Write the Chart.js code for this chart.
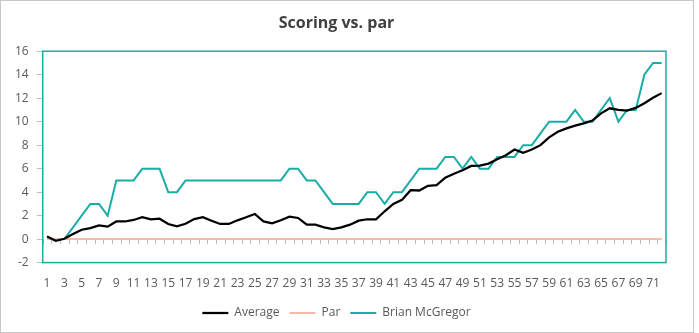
<!DOCTYPE html>
<html>
<head>
<meta charset="utf-8">
<script src="https://cdn.jsdelivr.net/npm/chart.js@4"></script>
<style>
  body { margin: 0; background: #fff; }
  #wrap { position: relative; width: 699px; height: 333px; }
  #frame { position: absolute; left: 0; top: 0; width: 692px; height: 331px; border: 1px solid #c8c8c8; pointer-events: none; }
</style>
</head>
<body>
<div id="wrap">
  <canvas id="scoreChart"></canvas>
  <div id="frame"></div>
</div>
<script>
// Trous (catégories)
const holes = [1, 2, 3, 4, 5, 6, 7, 8, 9, 10, 11, 12, 13, 14, 15, 16, 17, 18,
    19, 20, 21, 22, 23, 24, 25, 26, 27, 28, 29, 30, 31, 32, 33, 34, 35, 36,
    37, 38, 39, 40, 41, 42, 43, 44, 45, 46, 47, 48, 49, 50, 51, 52, 53, 54,
    55, 56, 57, 58, 59, 60, 61, 62, 63, 64, 65, 66, 67, 68, 69, 70, 71, 72];

// Score cumulé par rapport au par
const average = [0.23, -0.14, 0.03, 0.43, 0.8, 0.94, 1.17, 1.06, 1.5, 1.5, 1.63, 1.86,
    1.69, 1.74, 1.29, 1.09, 1.31, 1.71, 1.86, 1.57, 1.29, 1.29, 1.6, 1.86,
    2.14, 1.51, 1.34, 1.6, 1.91, 1.8, 1.23, 1.23, 1.0, 0.86, 1.0, 1.23,
    1.57, 1.69, 1.69, 2.37, 3.0, 3.34, 4.17, 4.14, 4.54, 4.6, 5.23, 5.57,
    5.86, 6.23, 6.26, 6.43, 6.8, 7.14, 7.63, 7.34, 7.63, 8.0, 8.66, 9.14,
    9.43, 9.66, 9.86, 10.09, 10.71, 11.14, 11.0, 10.94, 11.17, 11.57, 12.03, 12.43];

const par = [0, 0, 0, 0, 0, 0, 0, 0, 0, 0, 0, 0, 0, 0, 0, 0, 0, 0,
    0, 0, 0, 0, 0, 0, 0, 0, 0, 0, 0, 0, 0, 0, 0, 0, 0, 0,
    0, 0, 0, 0, 0, 0, 0, 0, 0, 0, 0, 0, 0, 0, 0, 0, 0, 0,
    0, 0, 0, 0, 0, 0, 0, 0, 0, 0, 0, 0, 0, 0, 0, 0, 0, 0];

const brian = [0, 0, 0, 1, 2, 3, 3, 2, 5, 5, 5, 6, 6, 6, 4, 4, 5, 5,
    5, 5, 5, 5, 5, 5, 5, 5, 5, 5, 6, 6, 5, 5, 4, 3, 3, 3,
    3, 4, 4, 3, 4, 4, 5, 6, 6, 6, 7, 7, 6, 7, 6, 6, 7, 7,
    7, 8, 8, 9, 10, 10, 10, 11, 10, 10, 11, 12, 10, 11, 11, 14, 15, 15];

const textColor = '#595959';
const tealColor = '#1aada6';

// Cadre de la zone de tracé + petites graduations sur l'axe à 0
const plotFrame = {
    id: 'plotFrame',
    beforeDatasetsDraw(chart) {
        const ctx = chart.ctx;
        const area = chart.chartArea;
        const x = chart.scales.x;
        const y0 = chart.scales.y.getPixelForValue(0);
        const half = (x.getPixelForValue(1) - x.getPixelForValue(0)) / 2;
        ctx.save();
        ctx.strokeStyle = '#bfbfbf';
        ctx.lineWidth = 1;
        ctx.beginPath();
        for (let i = 0; i <= holes.length; i++) {
            const px = Math.round(x.getPixelForValue(i) - half) + 0.5;
            ctx.moveTo(px, y0);
            ctx.lineTo(px, y0 + 5);
        }
        ctx.stroke();
        ctx.strokeStyle = tealColor;
        ctx.lineWidth = 1.5;
        ctx.strokeRect(area.left, area.top, area.right - area.left, area.bottom - area.top);
        ctx.restore();
    }
};

const ctx = document.getElementById('scoreChart').getContext('2d');
new Chart(ctx, {
    type: 'line',
    data: {
        labels: holes,
        datasets: [
            { label: 'Average', data: average, borderColor: '#000000', backgroundColor: '#000000', borderWidth: 2.25, pointRadius: 0, tension: 0 },
            { label: 'Par', data: par, borderColor: '#f4b9a8', backgroundColor: '#f4b9a8', borderWidth: 2, pointRadius: 0, tension: 0 },
            { label: 'Brian McGregor', data: brian, borderColor: tealColor, backgroundColor: tealColor, borderWidth: 2, pointRadius: 0, tension: 0 }
        ]
    },
    options: {
        responsive: true,
        maintainAspectRatio: false,
        animation: false,
        layout: { padding: { left: 7, right: 33, top: 0, bottom: 4 } },
        scales: {
            x: {
                offset: true,
                grid: { display: false },
                border: { display: false },
                ticks: {
                    color: textColor,
                    font: { family: 'Open Sans', size: 12 },
                    autoSkip: false,
                    maxRotation: 0,
                    padding: 6,
                    callback: function (value, index) {
                        return index % 2 === 0 ? holes[index] : '';
                    }
                }
            },
            y: {
                min: -2,
                max: 16,
                grid: { drawOnChartArea: false, color: '#bfbfbf', tickLength: 6 },
                border: { display: false },
                ticks: {
                    stepSize: 2,
                    color: textColor,
                    font: { family: 'Open Sans', size: 12 },
                    padding: 8
                }
            }
        },
        plugins: {
            title: {
                display: true,
                text: 'Scoring vs. par',
                color: '#404040',
                font: { family: 'Open Sans', size: 16, weight: 'bold' },
                padding: { top: 14, bottom: 18 }
            },
            legend: {
                position: 'bottom',
                labels: {
                    color: textColor,
                    font: { family: 'Open Sans', size: 12 },
                    usePointStyle: true,
                    pointStyle: 'line',
                    pointStyleWidth: 26,
                    padding: 10
                }
            },
            tooltip: { enabled: false }
        }
    },
    plugins: [plotFrame]
});
</script>
</body>
</html>
